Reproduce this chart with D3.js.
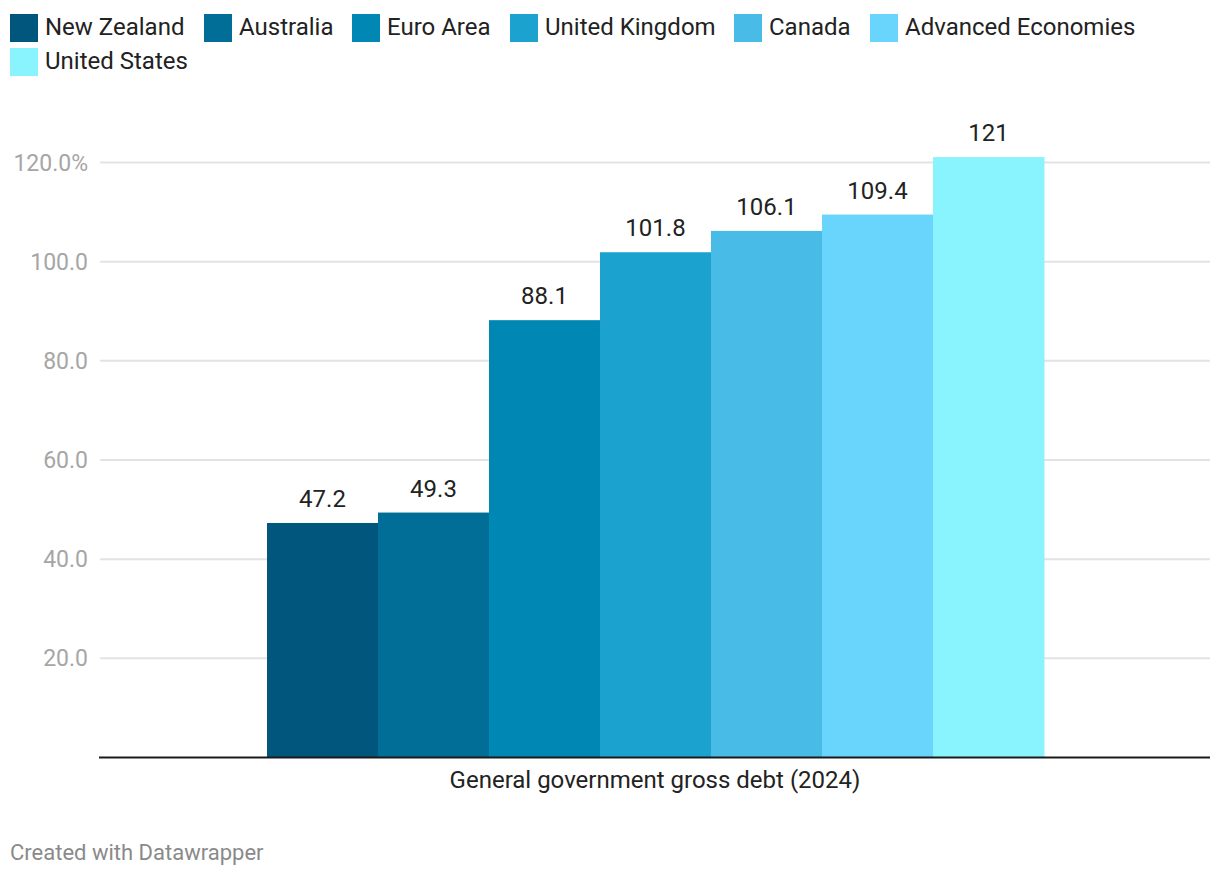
<!DOCTYPE html>
<html><head><meta charset="utf-8">
<script src="https://cdn.jsdelivr.net/npm/d3@7"></script>
<style>body{margin:0;background:#fff;font-family:Roboto,"Noto Sans",sans-serif;}</style>
</head><body><svg id="c" width="1220" height="878"></svg>
<script>
const categories = ["New Zealand","Australia","Euro Area","United Kingdom","Canada","Advanced Economies","United States"];
const values = [47.2,49.3,88.1,101.8,106.1,109.4,121];
const valueLabels = ["47.2","49.3","88.1","101.8","106.1","109.4","121"];
const colors = ["#00567c","#006e97","#0087b3","#1ba2cf","#48bbe6","#69d5fc","#8af4fe"];
const yTicks = [20,40,60,80,100,120];
const groupLabel = "General government gross debt (2024)";

const svg = d3.select("#c");
const pLeft = 100, pRight = 1210, pBottom = 757;
const y = d3.scaleLinear().domain([0,120]).range([pBottom, 162]);
const x0 = d3.scaleBand().domain([groupLabel]).range([pLeft,pRight]).paddingInner(0).paddingOuter(0.15);
const x1 = d3.scaleBand().domain(categories).range([267-pLeft, 1044-pLeft]);

// legend
const legendPos = [[10,14],[204,14],[352,14],[510,14],[734,14],[870,14],[10,48]];
const lg = svg.append("g");
categories.forEach((c,i)=>{
  const [lx,ly] = legendPos[i];
  lg.append("rect").attr("x",lx).attr("y",ly).attr("width",28).attr("height",28).attr("fill",colors[i]);
  lg.append("text").attr("x",lx+35).attr("y",ly+20.5).attr("font-size",24).attr("fill","#222").text(c);
});

// grid
const yAxis = d3.axisLeft(y).tickValues(yTicks).tickSize(-(pRight-pLeft)).tickFormat(d=> d===120 ? d.toFixed(1)+"%" : d.toFixed(1));
const ga = svg.append("g").attr("transform",`translate(${pLeft},0)`).call(yAxis);
ga.select(".domain").remove();
ga.selectAll(".tick line").attr("stroke","#e3e3e3").attr("stroke-width",2);
ga.selectAll(".tick text").attr("x",-12).attr("fill","#a6a6a6").attr("font-size",23).attr("font-family","Roboto").attr("dy","0.35em")
  .attr("text-anchor","end");

// bars
const g = svg.append("g").attr("transform",`translate(${pLeft},0)`);
g.selectAll("rect").data(values).enter().append("rect")
  .attr("x",(d,i)=>x1(categories[i])).attr("width",x1.bandwidth()+0.5)
  .attr("y",d=>y(d)).attr("height",d=>pBottom-y(d)).attr("fill",(d,i)=>colors[i]);
g.selectAll("text.v").data(values).enter().append("text").attr("class","v")
  .attr("x",(d,i)=>x1(categories[i])+x1.bandwidth()/2).attr("y",d=>y(d)-16)
  .attr("text-anchor","middle").attr("font-size",24).attr("fill","#222").text((d,i)=>valueLabels[i]);

// baseline
svg.append("line").attr("x1",pLeft-1).attr("x2",pRight).attr("y1",pBottom+0.5).attr("y2",pBottom+0.5).attr("stroke","#1a1a1a").attr("stroke-width",2);

// x label
svg.append("text").attr("x",x0(groupLabel)+x0.bandwidth()/2).attr("y",788).attr("text-anchor","middle")
  .attr("font-size",24).attr("fill","#222").text(groupLabel);

svg.append("text").attr("x",10).attr("y",860).attr("font-size",22).attr("fill","#8a8a8a").text("Created with Datawrapper");
</script></body></html>
